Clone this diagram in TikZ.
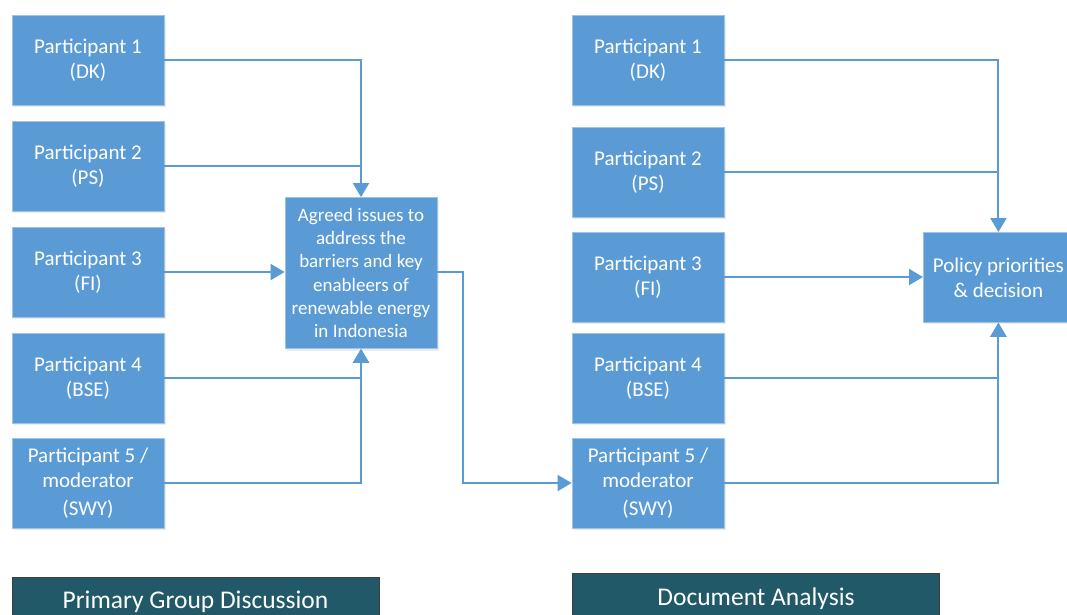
\documentclass[tikz,border=0pt]{standalone}
\usepackage{fontspec}
\setmainfont{Carlito}
\usetikzlibrary{arrows.meta,shadows}
\definecolor{boxblue}{HTML}{5B9BD5}
\definecolor{boxedge}{HTML}{9DC3E6}
\definecolor{teal}{HTML}{215968}
\begin{document}
\begin{tikzpicture}[x=1pt,y=-1pt,
  pbox/.style={draw=boxedge,line width=0.8pt,fill=boxblue,text=white,align=center,
    minimum width=152pt,minimum height=90pt,inner sep=2pt,
    font=\fontsize{21}{25}\selectfont,
    drop shadow={shadow xshift=2pt,shadow yshift=-2pt,opacity=0.15}},
  lbl/.style={draw=black!75,line width=1pt,fill=teal,text=white,anchor=base,
    minimum width=367pt,inner ysep=0pt,text depth=12pt,
    font=\fontsize{25.5}{28}\selectfont},
  conn/.style={draw=boxblue,line width=2pt},
  arr/.style={conn,-{Triangle[width=16pt,length=14pt]}}]
\useasboundingbox (0,0) rectangle (1067,614);
% left column
\node[pbox] (a1) at (88,60) {Participant 1\\(DK)};
\node[pbox] (a2) at (88,166) {Participant 2\\(PS)};
\node[pbox] (a3) at (88,272) {Participant 3\\(FI)};
\node[pbox] (a4) at (88,378) {Participant 4\\(BSE)};
\node[pbox] (a5) at (88,483) {Participant 5 /\\moderator\\[3pt](SWY)};
\node[pbox,minimum width=152pt,minimum height=151pt,font=\fontsize{19}{23.2}\selectfont] (ag) at (361,273)
  {Agreed issues to\\address the\\barriers and key\\enableers of\\renewable energy\\in Indonesia};
% right column
\node[pbox] (b1) at (648,60) {Participant 1\\(DK)};
\node[pbox] (b2) at (648,172) {Participant 2\\(PS)};
\node[pbox] (b3) at (648,277) {Participant 3\\(FI)};
\node[pbox] (b4) at (648,378) {Participant 4\\(BSE)};
\node[pbox] (b5) at (648,483) {Participant 5 /\\moderator\\[3pt](SWY)};
\node[pbox,anchor=north west,minimum width=150pt] (pd) at (923,232) {Policy priorities\\\& decision};
% bottom labels
\node[lbl,text height=31pt] (l1) at (195.5,608) {Primary Group Discussion};
\node[lbl,text height=32pt] (l2) at (756,605) {Document Analysis};
% left connectors
\draw[arr] (a1.east) -| (ag.north);
\draw[conn] (a2.east) -- (ag.north |- a2.east);
\draw[arr] (a3.east) -- (ag.west |- a3.east);
\draw[arr] (a4.east) -| (ag.south);
\draw[arr] (a5.east) -| (ag.south);
\coordinate (m) at (463,272);
\draw[arr] (ag.east |- m) -- (m) |- (b5.west);
% right connectors
\draw[arr] (b1.east) -| (pd.north);
\draw[conn] (b2.east) -- (pd.north |- b2.east);
\draw[arr] (b3.east) -- (pd.west |- b3.east);
\draw[arr] (b4.east) -| (pd.south);
\draw[arr] (b5.east) -| (pd.south);
\end{tikzpicture}
\end{document}
